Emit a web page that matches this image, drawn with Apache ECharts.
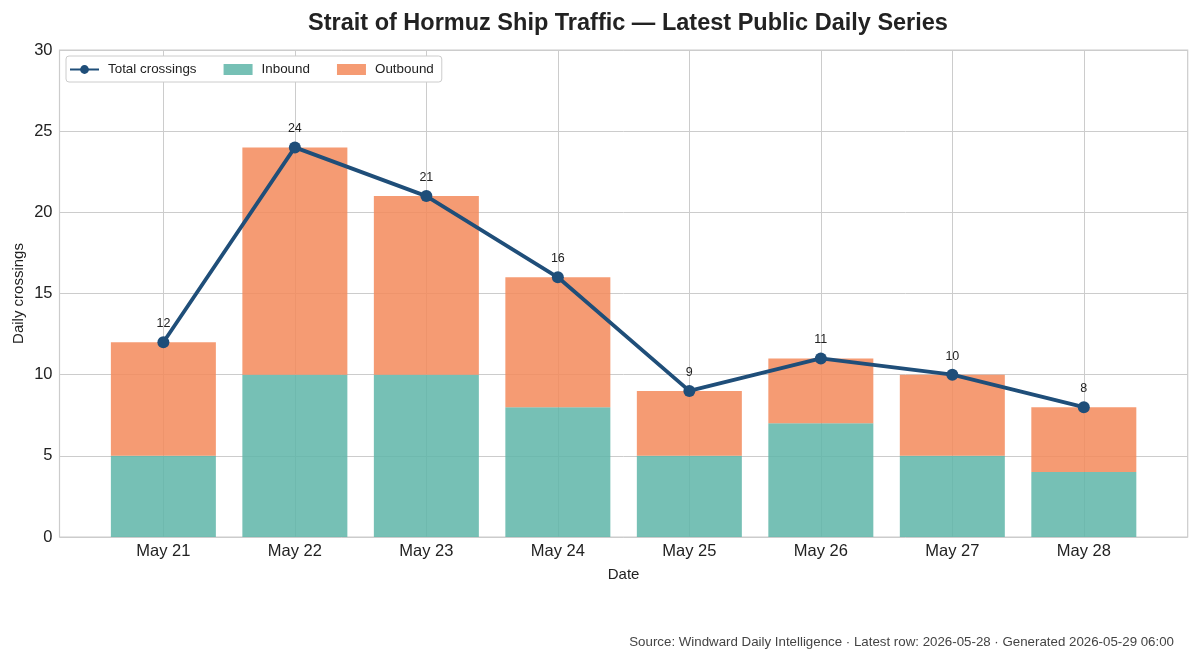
<!DOCTYPE html>
<html><head><meta charset="utf-8">
<script src="https://cdn.jsdelivr.net/npm/echarts@6/dist/echarts.min.js"></script>
<style>html,body{margin:0;padding:0;background:#fff}#c{width:1199px;height:660px}</style>
</head><body><div id="c"></div>
<script>
const categories = ['May 21','May 22','May 23','May 24','May 25','May 26','May 27','May 28'];
const inbound = [5,10,10,8,5,7,5,4];
const outbound = [7,14,11,8,4,4,5,4];
const total = [12,24,21,16,9,11,10,8];
const yTicks = [0,5,10,15,20,25,30];

const FONT = '"Liberation Sans", Arial, sans-serif';
const idx = categories.map((_, i) => i);
const chart = echarts.init(document.getElementById('c'), null, {renderer:'canvas'});
chart.setOption({
  animation:false,
  backgroundColor:'#fff',
  textStyle:{fontFamily:FONT},
  title:[{
    text:'Strait of Hormuz Ship Traffic — Latest Public Daily Series',
    left:623, top:7, textAlign:'center',
    textStyle:{fontFamily:FONT,fontSize:23.5,fontWeight:'bold',color:'#222'}
  },{
    text:'Source: Windward Daily Intelligence · Latest row: 2026-05-28 · Generated 2026-05-29 06:00',
    right:20, top:631,
    textStyle:{fontFamily:FONT,fontSize:13.3,fontWeight:'normal',color:'#444'}
  }],
  legend:{
    left:66, top:56, orient:'horizontal',
    backgroundColor:'#fff', borderColor:'#cccccc', borderWidth:1, borderRadius:3,
    padding:[7,8,6,3], itemGap:27, itemWidth:29, itemHeight:11,
    textStyle:{fontFamily:FONT,fontSize:13.4,color:'#222',padding:[0,0,0,4]},
    data:[{name:'Total crossings'},{name:'Inbound',icon:'rect'},{name:'Outbound',icon:'rect'}]
  },
  grid:{left:59.5, right:11.3, top:50, bottom:123, show:true, borderColor:'#cccccc', borderWidth:1.2,
        containLabel:false, outerBoundsMode:'none'},
  xAxis:{
    type:'value', min:-0.79, max:7.79,
    name:'Date', nameLocation:'middle', nameGap:30, nameMoveOverlap:false,
    nameTextStyle:{fontFamily:FONT,fontSize:15,color:'#222'},
    axisLine:{show:false}, axisTick:{show:false, customValues:idx},
    axisLabel:{customValues:idx, formatter:v=>categories[Math.round(v)]||'', fontFamily:FONT,fontSize:16.5,color:'#222',margin:6},
    splitLine:{show:true, lineStyle:{color:'#cccccc',width:1}}
  },
  yAxis:{
    type:'value', min:0, max:30, interval:5,
    name:'Daily crossings', nameLocation:'middle', nameGap:33, nameRotate:90, nameMoveOverlap:false,
    nameTextStyle:{fontFamily:FONT,fontSize:15,color:'#222'},
    axisLine:{show:false}, axisTick:{show:false},
    axisLabel:{fontFamily:FONT,fontSize:16.5,color:'#222',margin:7, formatter:v=>yTicks.includes(v)?String(v):''},
    splitLine:{show:true, lineStyle:{color:'#cccccc',width:1}}
  },
  series:[
    {name:'Total crossings', type:'line', z:5,
     data: idx.map(i=>[i,total[i]]),
     symbol:'circle', symbolSize:12,
     itemStyle:{color:'#1f4e79'}, lineStyle:{color:'#1f4e79',width:3.8},
     label:{show:true, position:'top', distance:6, fontFamily:FONT, fontSize:12.5, color:'#222',
            formatter:p=>String(total[p.dataIndex])}},
    {name:'Inbound', type:'bar', stack:'s', barWidth:105, z:2,
     encode:{x:1, y:0},
     data: idx.map(i=>[inbound[i], i]),
     itemStyle:{color:'rgba(94,181,168,0.85)'}},
    {name:'Outbound', type:'bar', stack:'s', barWidth:105, z:2,
     encode:{x:1, y:0},
     data: idx.map(i=>[outbound[i], i]),
     itemStyle:{color:'rgba(243,137,90,0.85)'}}
  ]
});
</script></body></html>
